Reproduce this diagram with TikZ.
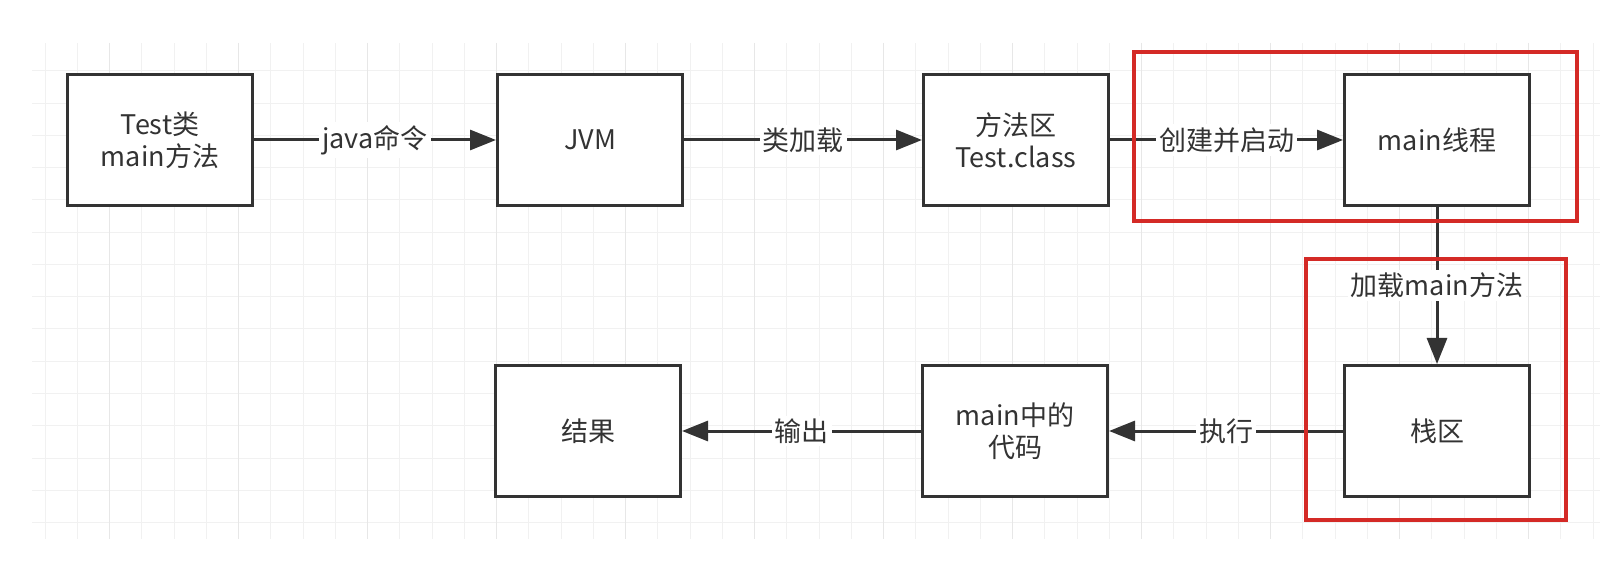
\documentclass[tikz,border=0pt]{standalone}
\usepackage{fontspec}
\setmainfont{Noto Sans CJK SC}
\usepackage{xcolor}
\usepackage{tikz}
\usetikzlibrary{arrows.meta, positioning}
\definecolor{boxline}{HTML}{333333}
\definecolor{framered}{HTML}{D42A26}
\definecolor{gridminor}{HTML}{F1F1F1}
\definecolor{gridmajor}{HTML}{E7E7E7}

\begin{document}
\begin{tikzpicture}[
    x=0.5pt, y=-0.5pt,
    node distance=120pt and 120pt,
    block/.style={draw=boxline, line width=1.5pt, fill=white, align=center, minimum width=92.5pt, minimum height=65.5pt, inner sep=0pt, text=boxline, font=\fontsize{13.5}{16}\selectfont},
    edgetext/.style={fill=white, inner sep=1.5pt, text=boxline, font=\fontsize{13.5}{16}\selectfont},
    arrow/.style={-{Triangle[length=13pt, width=10pt]}, line width=1.5pt, draw=boxline},
    gridline/.style={draw=gridminor, line width=0.5pt},
    gridbold/.style={draw=gridmajor, line width=0.5pt},
    redframe/.style={draw=framered, line width=1.6pt}
]
\useasboundingbox (0,0) rectangle (1615,566);

% background grid
\foreach \k in {0,...,48}
    \draw[gridline] ({45+32.25*\k},43) -- ({45+32.25*\k},539);
\foreach \k in {0,...,14}
    \draw[gridline] (32,{71+32.25*\k}) -- (1600,{71+32.25*\k});
\foreach \k in {2,6,...,46}
    \draw[gridbold] ({45+32.25*\k},43) -- ({45+32.25*\k},539);

\node[block] (test) at (160,140) {Test类\\main方法};
\node[block, right=121pt of test] (jvm) {JVM};
\node[block, right=119pt of jvm] (methodarea) {方法区\\Test.class};
\node[block, right=116.5pt of methodarea] (mainthread) {main线程};
\node[block, below=78.5pt of mainthread] (stack) {栈区};
\node[block, left=117pt of stack] (maincode) {main中的\\代码};
\node[block, left=119.5pt of maincode] (result) {结果};

\draw[arrow] (test) -- node[edgetext] {java命令} (jvm);
\draw[arrow] (jvm) -- node[edgetext] {类加载} (methodarea);
\draw[arrow] (methodarea) -- node[edgetext] {创建并启动} (mainthread);
\draw[arrow] (mainthread) -- node[edgetext] {加载main方法} (stack);
\draw[arrow] (stack) -- node[edgetext] {执行} (maincode);
\draw[arrow] (maincode) -- node[edgetext] {输出} (result);

% highlight frames
\draw[redframe] (1134,52) rectangle (1577,221);
\draw[redframe] (1306,259) rectangle (1566,520);

\end{tikzpicture}
\end{document}
